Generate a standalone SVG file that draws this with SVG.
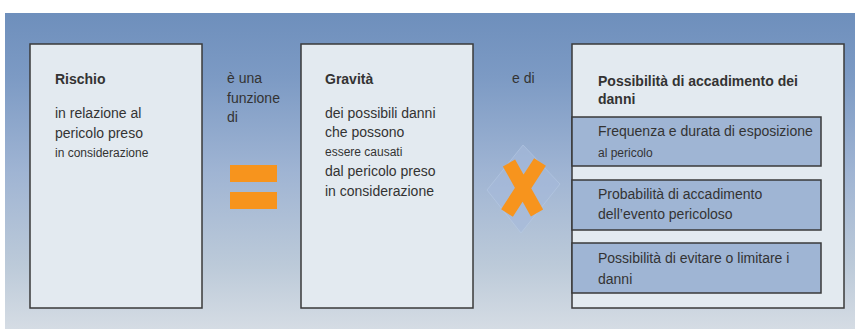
<svg xmlns="http://www.w3.org/2000/svg" width="855" height="329" viewBox="0 0 855 329">
<defs>
<linearGradient id="bg" x1="0" y1="0" x2="0" y2="1">
<stop offset="0" stop-color="#6e8fbc"/>
<stop offset="0.2" stop-color="#7c9ac4"/>
<stop offset="0.5" stop-color="#9fb4d3"/>
<stop offset="0.8" stop-color="#bccad9"/>
<stop offset="1" stop-color="#d5dce4"/>
</linearGradient>
</defs>
<style>
.box{fill:#e3eaf0;stroke:#3a3a3a;stroke-width:1.5}
.sub{fill:#9fb5d4;stroke:#3a3a3a;stroke-width:1.5}
text{font-family:"Liberation Sans",Arial,sans-serif;fill:#333;font-size:14px}
.t{font-weight:bold}
.s{font-size:12px}
.or{fill:#f7941d}
</style>
<rect x="0" y="0" width="855" height="329" fill="#ffffff"/>
<rect x="5" y="13" width="850" height="316" fill="url(#bg)"/>
<g id="rischio">
<rect class="box" x="30" y="44" width="172" height="264"/>
<text class="t" x="55" y="84">Rischio</text>
<text x="55" y="118">in relazione al</text>
<text x="55" y="138">pericolo preso</text>
<text class="s" x="55" y="157">in considerazione</text>
</g>
<g id="label-funzione">
<text x="227" y="83" font-size="13">è una</text>
<text x="227" y="103" font-size="13">funzione</text>
<text x="227" y="122" font-size="13">di</text>
</g>
<g id="uguale">
<rect class="or" x="230" y="165" width="47" height="17"/>
<rect class="or" x="230" y="192" width="47" height="17"/>
</g>
<g id="gravita">
<rect class="box" x="301" y="44" width="172" height="264"/>
<text class="t" x="325" y="84">Gravità</text>
<text x="325" y="118">dei possibili danni</text>
<text x="325" y="137">che possono</text>
<text class="s" x="325" y="156">essere causati</text>
<text x="325" y="176">dal pericolo preso</text>
<text x="325" y="196">in considerazione</text>
</g>
<g id="label-edi">
<text x="512" y="83" font-size="13">e di</text>
</g>
<g id="per">
<polygon points="523,145 560,184 521,233 487,190" fill="#a6badb" opacity="0.6" stroke="#b8cbe6" stroke-width="1"/>
<path d="M509,163 L537,213 M540,162 L507,213" stroke="#f7941d" stroke-width="14" stroke-linecap="butt" fill="none"/>
</g>
<g id="possibilita">
<rect class="box" x="572" y="44" width="272" height="264"/>
<text class="t" x="598" y="86">Possibilità di accadimento dei</text>
<text class="t" x="598" y="104">danni</text>
</g>
<g id="frequenza">
<rect class="sub" x="572" y="117" width="249" height="49"/>
<text x="598" y="136">Frequenza e durata di  esposizione</text>
<text class="s" x="598" y="157">al pericolo</text>
</g>
<g id="probabilita">
<rect class="sub" x="572" y="180" width="249" height="50"/>
<text x="598" y="199">Probabilità di accadimento</text>
<text x="598" y="219">dell’evento pericoloso</text>
</g>
<g id="evitare">
<rect class="sub" x="572" y="243" width="249" height="50"/>
<text x="598" y="263">Possibilità di evitare o limitare i</text>
<text x="598" y="284">danni</text>
</g>
<g id="connectors"></g>
</svg>
